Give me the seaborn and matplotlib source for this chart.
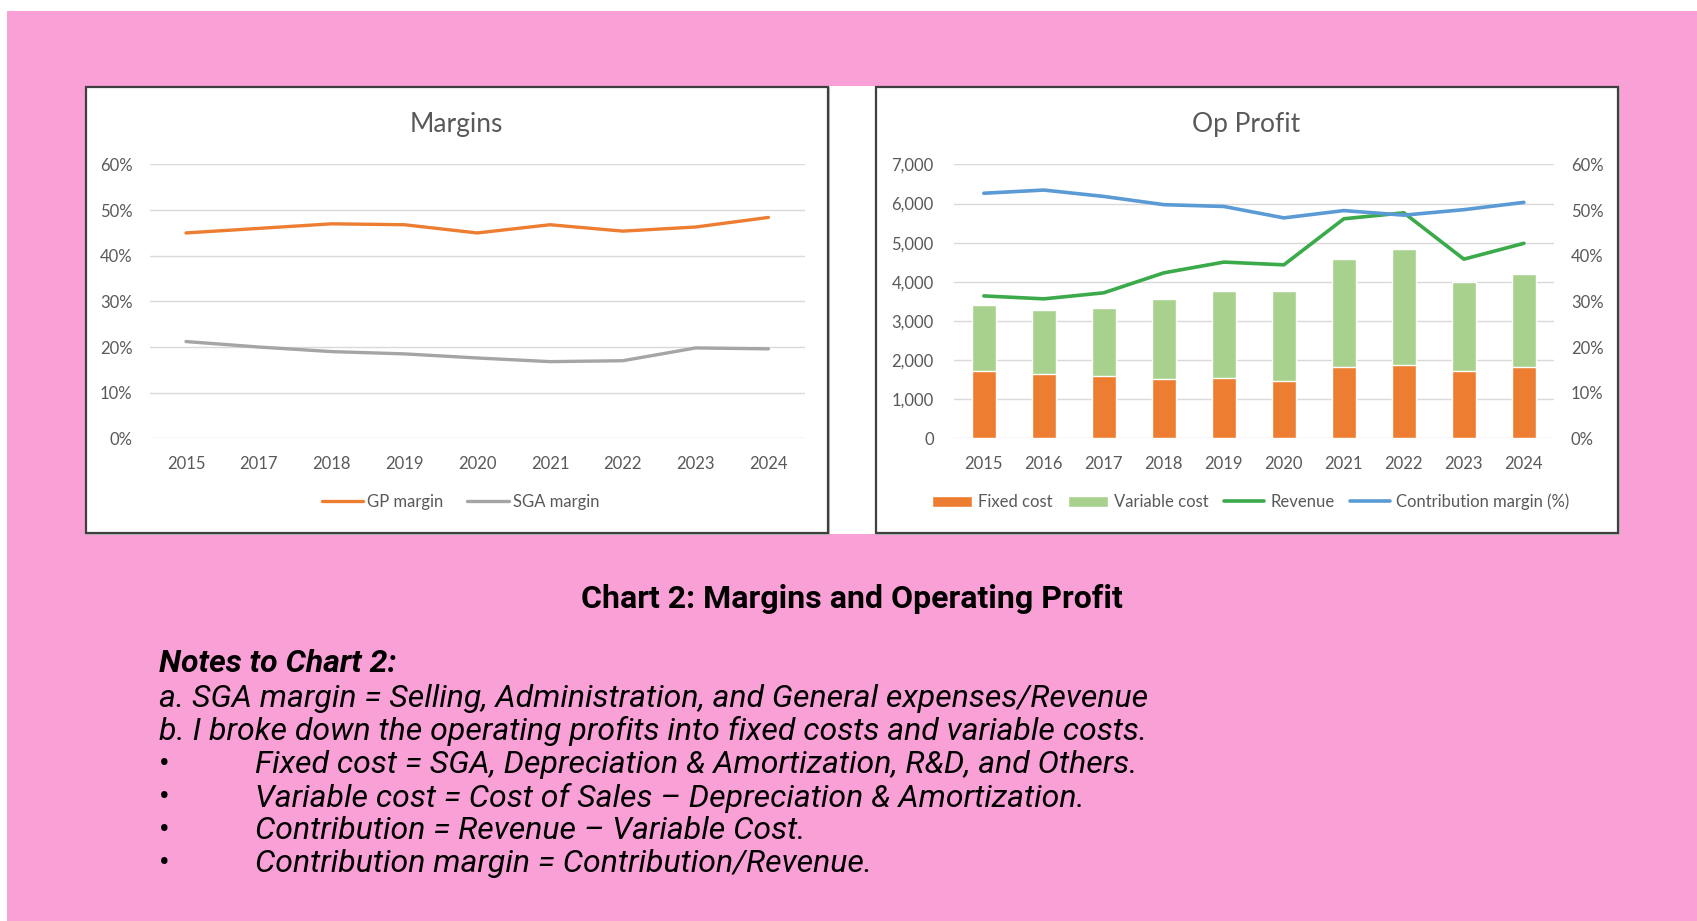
import numpy as np
import pandas as pd
import matplotlib
matplotlib.use("Agg")
import matplotlib.pyplot as plt
import seaborn as sns
from matplotlib.patches import Rectangle, Patch
from matplotlib.lines import Line2D
import matplotlib.ticker as mt

# ---------------- data ----------------
margin_years = ["2015", "2017", "2018", "2019", "2020", "2021", "2022", "2023", "2024"]
gp_margin = [45.0, 46.0, 47.0, 46.8, 45.0, 46.8, 45.4, 46.3, 48.4]
sga_margin = [21.2, 20.0, 19.0, 18.5, 17.6, 16.8, 17.0, 19.8, 19.6]

op_years = ["2015", "2016", "2017", "2018", "2019", "2020", "2021", "2022", "2023", "2024"]
fixed_cost = [1725, 1648, 1580, 1520, 1554, 1477, 1819, 1879, 1725, 1819]
variable_cost = [1682, 1640, 1750, 2050, 2212, 2289, 2775, 2954, 2272, 2382]
revenue = [3640, 3565, 3720, 4230, 4505, 4435, 5612, 5765, 4580, 4985]
contribution_margin = [53.7, 54.4, 53.0, 51.2, 50.8, 48.3, 49.9, 48.9, 50.1, 51.7]

notes_lines = [
    "a. SGA margin = Selling, Administration, and General expenses/Revenue",
    "b. I broke down the operating profits into fixed costs and variable costs.",
]
bullet_lines = [
    "Fixed cost = SGA, Depreciation & Amortization, R&D, and Others.",
    "Variable cost = Cost of Sales \u2013 Depreciation & Amortization.",
    "Contribution = Revenue \u2013 Variable Cost.",
    "Contribution margin = Contribution/Revenue.",
]

# ---------------- style ----------------
sns.set_theme(style="white")
plt.rcParams["font.family"] = ["Lato", "DejaVu Sans"]

W, H = 1697, 921
PT = 100 / 72.0  # px per point
fig = plt.figure(figsize=(W / 100, H / 100), dpi=100)
fig.patch.set_facecolor("white")

def fx(px):
    return px / W

def fy(py):
    return 1 - py / H

PINK = "#F9A0D6"
ORANGE = "#ED7D31"
GRAY = "#A5A5A5"
LGREEN = "#A9D18E"
GREEN = "#3AAA4A"
BLUE = "#5B9BD5"
TXT = "#595959"
GRID = "#D9D9D9"
TICK_FS = 12

# background
fig.add_artist(Rectangle((fx(7), 0), 1, fy(11), transform=fig.transFigure,
                         facecolor=PINK, edgecolor="none", zorder=-10))
fig.add_artist(Rectangle((fx(85), fy(534)), fx(1619) - fx(85), fy(86) - fy(534),
                         transform=fig.transFigure, facecolor="white", edgecolor="none", zorder=-9))
for x0, x1 in [(85.5, 828), (876, 1618)]:
    fig.add_artist(Rectangle((fx(x0 + 1), fy(534)), fx(x1 + 1) - fx(x0 + 1), fy(88) - fy(534),
                             transform=fig.transFigure, facecolor="none", edgecolor="#BBBBBB",
                             lw=1.5, zorder=-8))
    fig.add_artist(Rectangle((fx(x0), fy(533)), fx(x1) - fx(x0), fy(87.5) - fy(533),
                             transform=fig.transFigure, facecolor="white", edgecolor="#3F3F3F",
                             lw=1.6, zorder=-7))

ax_bottom = fy(438.3)
ax_height = fy(164.5) - fy(438.3)

def style_axis(ax):
    for s in ax.spines.values():
        s.set_visible(False)
    ax.set_facecolor("none")
    ax.tick_params(axis="both", length=0, colors=TXT, labelsize=TICK_FS)
    ax.set_xlabel("")
    ax.set_ylabel("")

# ---------------- Margins ----------------
ax1 = fig.add_axes([fx(149.6), ax_bottom, fx(804.8) - fx(149.6), ax_height])
x1 = np.arange(len(margin_years))
df_m = pd.DataFrame({"x": x1, "gp": gp_margin, "sga": sga_margin})
sns.lineplot(data=df_m, x="x", y="gp", ax=ax1, color=ORANGE, lw=2.4)
sns.lineplot(data=df_m, x="x", y="sga", ax=ax1, color=GRAY, lw=2.4)
ax1.set_xlim(-0.5, len(margin_years) - 0.5)
ax1.set_ylim(0, 60)
ax1.set_yticks(np.arange(0, 61, 10))
ax1.yaxis.set_major_formatter(mt.FuncFormatter(lambda v, p: f"{v:.0f}%"))
ax1.set_xticks(x1)
ax1.set_xticklabels(margin_years)
ax1.grid(axis="y", color=GRID, lw=1)
ax1.set_axisbelow(True)
style_axis(ax1)
ax1.tick_params(axis="y", pad=17 / PT)
ax1.tick_params(axis="x", pad=18 / PT)
ax1.legend(handles=[Line2D([], [], color=ORANGE, lw=2.4), Line2D([], [], color=GRAY, lw=2.4)],
           labels=["GP margin", "SGA margin"], loc="center", ncol=2,
           bbox_to_anchor=(fx(460.5), fy(502)), bbox_transform=fig.transFigure,
           frameon=False, fontsize=TICK_FS, handlelength=2.5, handletextpad=0.25,
           columnspacing=1.4, labelcolor=TXT)
fig.text(fx(456.7), fy(124.5), "Margins", ha="center", va="center", fontsize=19, color=TXT)

# ---------------- Op Profit ----------------
ax2 = fig.add_axes([fx(953.8), ax_bottom, fx(1553.9) - fx(953.8), ax_height])
x2 = np.arange(len(op_years))
total_cost = [f + v for f, v in zip(fixed_cost, variable_cost)]
df_o = pd.DataFrame({"x": x2, "fixed": fixed_cost, "total": total_cost, "rev": revenue,
                     "cm": contribution_margin})
sns.barplot(data=df_o, x="x", y="total", ax=ax2, color=LGREEN, width=0.4,
            saturation=1, native_scale=True, zorder=2)
sns.barplot(data=df_o, x="x", y="fixed", ax=ax2, color=ORANGE, width=0.4,
            saturation=1, native_scale=True, zorder=3)
sns.lineplot(data=df_o, x="x", y="rev", ax=ax2, color=GREEN, lw=2.6, zorder=4)
ax2.set_xlim(-0.5, len(op_years) - 0.5)
ax2.set_ylim(0, 7000)
ax2.set_yticks(np.arange(0, 7001, 1000))
ax2.yaxis.set_major_formatter(mt.FuncFormatter(lambda v, p: f"{v:,.0f}"))
ax2.set_xticks(x2)
ax2.set_xticklabels(op_years)
ax2.grid(axis="y", color=GRID, lw=1, zorder=0)
ax2.set_axisbelow(True)
style_axis(ax2)
ax2.tick_params(axis="y", pad=20 / PT)
ax2.tick_params(axis="x", pad=18 / PT)

ax3 = ax2.twinx()
sns.lineplot(data=df_o, x="x", y="cm", ax=ax3, color=BLUE, lw=2.6)
ax3.set_ylim(0, 60)
ax3.set_yticks(np.arange(0, 61, 10))
ax3.yaxis.set_major_formatter(mt.FuncFormatter(lambda v, p: f"{v:.0f}%"))
ax3.set_xlim(-0.5, len(op_years) - 0.5)
style_axis(ax3)
ax3.tick_params(axis="y", pad=17 / PT)
ax3.grid(False)

ax2.legend(handles=[Patch(facecolor=ORANGE), Patch(facecolor=LGREEN),
                    Line2D([], [], color=GREEN, lw=2.6), Line2D([], [], color=BLUE, lw=2.6)],
           labels=["Fixed cost", "Variable cost", "Revenue", "Contribution margin (%)"],
           loc="center", ncol=4, bbox_to_anchor=(fx(1250.6), fy(502)),
           bbox_transform=fig.transFigure, frameon=False, fontsize=TICK_FS,
           handlelength=2.4, handletextpad=0.35, columnspacing=0.95, labelcolor=TXT)
fig.text(fx(1245.7), fy(124.5), "Op Profit", ha="center", va="center", fontsize=19, color=TXT)

# ---------------- caption & notes ----------------
fig.text(fx(852), fy(598.5), "Chart 2: Margins and Operating Profit", ha="center", va="center",
         fontsize=23, fontweight="bold", family=["Roboto", "DejaVu Sans"], color="black")
note_kw = dict(fontsize=23, style="italic", family=["Roboto", "DejaVu Sans"], color="black",
               va="center", ha="left")
fig.text(fx(159), fy(664), "Notes to Chart 2:", fontweight="bold", **note_kw)
ys = [698, 731, 764, 797.5, 830.5, 863.5]
for t, y in zip(notes_lines, ys[:2]):
    fig.text(fx(159), fy(y), t, **note_kw)
for t, y in zip(bullet_lines, ys[2:]):
    fig.text(fx(159), fy(y), "\u2022", **{**note_kw, "style": "normal"})
    fig.text(fx(255.4), fy(y), t, **note_kw)

fig.savefig("out.png", dpi=100, facecolor=fig.get_facecolor())
